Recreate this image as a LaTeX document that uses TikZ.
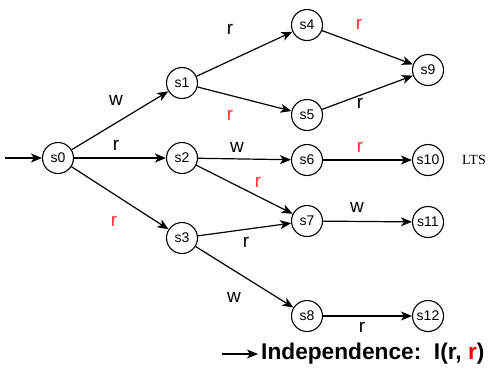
\documentclass[tikz,border=0pt]{standalone}
\usepackage{fontspec}
\setmainfont{Liberation Sans}
\newfontfamily\serifface{Liberation Serif}
\usetikzlibrary{arrows.meta}
\definecolor{redlab}{RGB}{255,51,51}
\begin{document}
\begin{tikzpicture}[x=1pt,y=-1pt,
  st/.style={circle,draw,line width=1.1pt,minimum size=31pt,inner sep=0pt,font=\fontsize{14}{14}\selectfont},
  tr/.style={-{Stealth[length=11pt,width=9pt,inset=3pt]},line width=1.2pt},
  lab/.style={font=\fontsize{19}{19}\selectfont},
  rlab/.style={lab,text=redlab}]
\useasboundingbox (0,0) rectangle (489,368);
\node[st] (s0) at (58,158) {s0};
\node[st] (s1) at (182,83) {s1};
\node[st] (s2) at (182,158) {s2};
\node[st] (s3) at (182,238) {s3};
\node[st] (s4) at (307,25) {s4};
\node[st] (s5) at (307,115) {s5};
\node[st] (s6) at (307,160) {s6};
\node[st] (s7) at (307,221) {s7};
\node[st] (s8) at (307,316) {s8};
\node[st] (s9) at (428,70) {s9};
\node[st] (s10) at (428,160) {s10};
\node[st] (s11) at (428,222) {s11};
\node[st] (s12) at (428,316) {s12};
\coordinate (init) at (5,158);
\draw[tr] (init) -- (s0);
\draw[tr] (s0) -- (s1);
\draw[tr] (s0) -- (s2);
\draw[tr] (s0) -- (s3);
\draw[tr] (s1) -- (s4);
\draw[tr] (s1) -- (s5);
\draw[tr] (s4) -- (s9);
\draw[tr] (s5) -- (s9);
\draw[tr] (s2) -- (s6);
\draw[tr] (s2) -- (s7);
\draw[tr] (s3) -- (s7);
\draw[tr] (s3) -- (s8);
\draw[tr] (s6) -- (s10);
\draw[tr] (s7) -- (s11);
\draw[tr] (s8) -- (s12);
\node[lab] (l1) at (116,100) {w};
\node[lab] (l2) at (116,145) {r};
\node[rlab] (l3) at (114,221) {r};
\node[lab] (l4) at (230,29) {r};
\node[rlab] (l5) at (230,115) {r};
\node[rlab] (l6) at (359,24) {r};
\node[lab] (l7) at (360,103) {r};
\node[lab] (l8) at (237,147) {w};
\node[rlab] (l9) at (360,147) {r};
\node[rlab] (l10) at (258,182) {r};
\node[lab] (l11) at (357,207) {w};
\node[lab] (l12) at (246,242) {r};
\node[lab] (l13) at (234,297) {w};
\node[lab] (l14) at (362,327) {r};
\node[font=\serifface\fontsize{14}{14}\selectfont] (lts) at (474,160) {LTS};
\coordinate (la) at (222,354);
\node[anchor=west,font=\bfseries\fontsize{22.7}{22.7}\selectfont,inner sep=0pt] (leg) at (261,354) {Independence:\ \ I(r, \textcolor{red}{r})};
\draw[tr] (la) -- ([xshift=-3pt]leg.west);
\end{tikzpicture}
\end{document}
